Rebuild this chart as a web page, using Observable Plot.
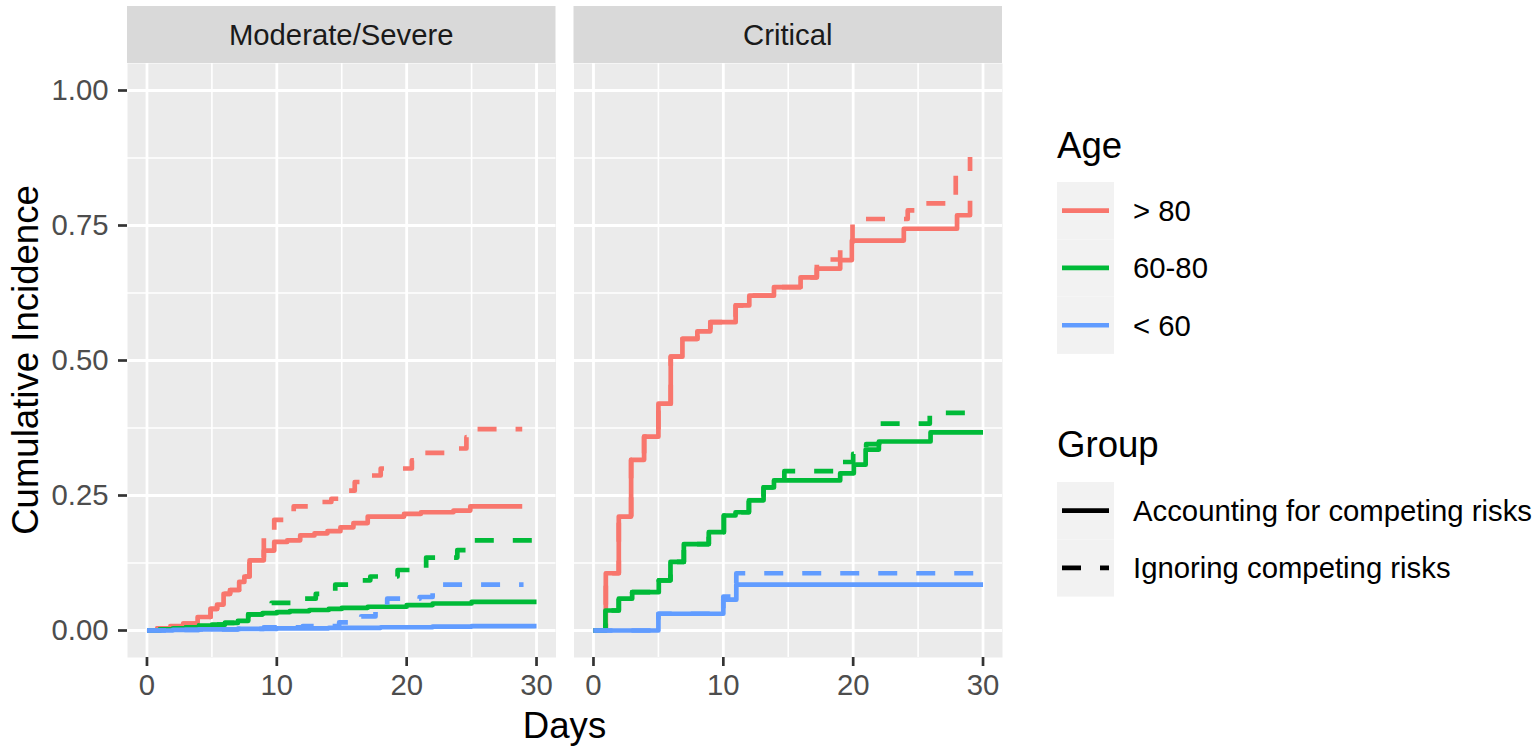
<!DOCTYPE html>
<html>
<head>
<meta charset="utf-8">
<script src="https://cdn.jsdelivr.net/npm/d3@7"></script>
<script src="https://cdn.jsdelivr.net/npm/@observablehq/plot@0.6"></script>
<style>
  html, body { margin: 0; padding: 0; background: #ffffff; }
  #wrap { position: relative; width: 1535px; height: 752px; overflow: hidden; background: #ffffff;
          font-family: "Liberation Sans", Arial, Helvetica, sans-serif; }
  #wrap svg { position: absolute; left: 0; top: 0; }
</style>
</head>
<body>
<div id="wrap"></div>
<script>
// ---------- categories & ticks ----------
const panels = ["Moderate/Severe", "Critical"];
const ages = ["> 80", "60-80", "< 60"];
const ageColors = ["#F8766D", "#00BA38", "#619CFF"];
const groups = ["Accounting for competing risks", "Ignoring competing risks"];
const xTicks = [0, 10, 20, 30];
const xMinor = [5, 15, 25];
const yTicks = [0, 0.25, 0.5, 0.75, 1];
const yMinor = [0.125, 0.375, 0.625, 0.875];
const xTitle = "Days";
const yTitle = "Cumulative Incidence";
const ageTitle = "Age";
const groupTitle = "Group";

// ---------- series values: [day, cumulative incidence] (step changes) ----------
// Moderate/Severe
const ms_gt80_acc = [[0,0],[0.8,0.004],[1.8,0.008],[2.8,0.013],[3.9,0.025],[4.9,0.040],[5.4,0.048],[5.9,0.068],[6.4,0.075],[7.1,0.090],[7.5,0.100],[7.9,0.130],[9.0,0.148],[9.8,0.164],[10.8,0.167],[11.8,0.176],[12.9,0.180],[13.9,0.184],[14.9,0.191],[15.9,0.199],[17.0,0.211],[19.8,0.216],[21.1,0.219],[23.6,0.222],[24.9,0.230],[28.9,0.230]];
const ms_gt80_ign = [[0,0],[0.8,0.004],[1.8,0.008],[2.8,0.013],[3.9,0.025],[4.9,0.040],[5.4,0.048],[5.9,0.068],[6.4,0.075],[7.1,0.090],[7.5,0.100],[7.9,0.130],[9.0,0.186],[9.8,0.205],[11.3,0.230],[13.0,0.238],[14.2,0.244],[15.1,0.259],[16.0,0.275],[17.0,0.287],[18.0,0.300],[20.4,0.315],[21.2,0.329],[24.0,0.337],[24.6,0.358],[24.9,0.373],[28.9,0.373]];
const ms_6080_acc = [[0,0],[1,0.002],[2,0.004],[3,0.006],[4,0.009],[5,0.011],[6,0.014],[7,0.018],[7.8,0.030],[8.9,0.032],[10,0.034],[11,0.036],[12.5,0.038],[14,0.040],[15,0.042],[17,0.044],[20,0.047],[22,0.050],[25,0.053],[30,0.053]];
const ms_6080_ign = [[0,0],[1,0.002],[2,0.004],[3,0.006],[4,0.009],[5,0.011],[6,0.014],[7,0.018],[7.8,0.030],[8.9,0.038],[9.6,0.051],[11.6,0.059],[13.0,0.068],[14.5,0.085],[16.5,0.093],[17.2,0.100],[19.3,0.112],[21.5,0.135],[23.9,0.149],[24.9,0.167],[30,0.167]];
const ms_lt60_acc = [[0,0],[2,0.001],[4,0.002],[7,0.003],[10,0.004],[14,0.005],[18,0.006],[22,0.007],[25,0.008],[30,0.008]];
const ms_lt60_ign = [[0,0],[2,0.001],[4,0.002],[7,0.003],[9,0.006],[12,0.008],[14.8,0.015],[16.5,0.026],[17.6,0.043],[18.5,0.059],[21.0,0.062],[22.0,0.085],[29,0.085]];
// Critical
const cr_gt80_acc = [[0,0],[0.95,0.106],[1.95,0.211],[2.9,0.316],[3.9,0.359],[5.0,0.420],[5.95,0.507],[6.85,0.540],[8.0,0.554],[9.0,0.571],[10.95,0.602],[12.0,0.620],[13.9,0.636],[15.95,0.654],[17.2,0.670],[19.0,0.686],[19.9,0.722],[23.9,0.744],[28.0,0.769],[29.0,0.796]];
const cr_gt80_ign = [[0,0],[0.95,0.106],[1.95,0.211],[2.9,0.316],[3.9,0.359],[5.0,0.420],[5.95,0.507],[6.85,0.540],[8.0,0.554],[9.0,0.571],[10.95,0.602],[12.0,0.620],[13.9,0.636],[15.95,0.654],[17.2,0.687],[19.0,0.713],[19.95,0.762],[24.2,0.778],[24.8,0.791],[27.9,0.843],[29.0,0.877]];
const cr_6080_acc = [[0,0],[0.92,0.037],[1.95,0.059],[2.98,0.071],[5.03,0.093],[5.93,0.127],[6.96,0.160],[8.88,0.182],[10.04,0.213],[10.94,0.219],[11.97,0.241],[13.1,0.265],[13.9,0.278],[19.0,0.291],[20.05,0.307],[20.96,0.335],[21.98,0.350],[25.96,0.367],[30,0.367]];
const cr_6080_ign = [[0,0],[0.92,0.037],[1.95,0.059],[2.98,0.071],[5.03,0.093],[5.93,0.127],[6.96,0.160],[8.88,0.182],[10.04,0.213],[10.94,0.219],[11.97,0.241],[13.1,0.265],[13.9,0.278],[14.7,0.295],[19.0,0.312],[20.0,0.327],[21.0,0.345],[22.0,0.383],[25.9,0.403],[30,0.403]];
const cr_lt60_acc = [[0,0],[5,0.031],[10,0.057],[11,0.085],[30,0.085]];
const cr_lt60_ign = [[0,0],[5,0.031],[10,0.063],[11,0.106],[30,0.106]];

// ---------- build table ----------
const series = [
  [panels[0], ages[0], groups[0], ms_gt80_acc], [panels[0], ages[0], groups[1], ms_gt80_ign],
  [panels[0], ages[1], groups[0], ms_6080_acc], [panels[0], ages[1], groups[1], ms_6080_ign],
  [panels[0], ages[2], groups[0], ms_lt60_acc], [panels[0], ages[2], groups[1], ms_lt60_ign],
  [panels[1], ages[0], groups[0], cr_gt80_acc], [panels[1], ages[0], groups[1], cr_gt80_ign],
  [panels[1], ages[1], groups[0], cr_6080_acc], [panels[1], ages[1], groups[1], cr_6080_ign],
  [panels[1], ages[2], groups[0], cr_lt60_acc], [panels[1], ages[2], groups[1], cr_lt60_ign]
];
const rows = series.flatMap(([panel, age, group, pts]) =>
  pts.map(([day, value]) => ({panel, age, group, day, value})));

// ---------- layout ----------
const W = 1535, H = 752;
const mL = 127, mR = 533, mT = 63, mB = 95;
const lineW = 4.7, dash = "19,19";
const textFont = 29.3, titleFont = 36.6;

const lineMarks = [];
for (const a of ages) {
  for (const g of groups) {
    lineMarks.push(Plot.line(rows.filter(d => d.age === a && d.group === g), {
      x: "day", y: "value", fx: "panel", stroke: "age",
      strokeWidth: lineW, curve: "step-after",
      strokeDasharray: g === groups[1] ? dash : null,
      strokeLinejoin: "round", strokeLinecap: "butt"
    }));
  }
}

const chart = Plot.plot({
  width: W, height: H,
  marginLeft: mL, marginRight: mR, marginTop: mT, marginBottom: mB,
  style: {background: "transparent", fontFamily: "'Liberation Sans', Arial, Helvetica, sans-serif", overflow: "visible"},
  fx: {domain: panels, paddingInner: 0.0403, paddingOuter: 0, round: false, axis: null, label: null},
  x: {domain: [-1.5, 31.5], label: null},
  y: {domain: [-0.05, 1.05], label: null},
  color: {domain: ages, range: ageColors},
  marks: [
    Plot.frame({fill: "#EBEBEB", stroke: null}),
    Plot.gridX(xMinor, {stroke: "#FFFFFF", strokeOpacity: 1, strokeWidth: 1.6}),
    Plot.gridY(yMinor, {stroke: "#FFFFFF", strokeOpacity: 1, strokeWidth: 1.6}),
    Plot.gridX(xTicks, {stroke: "#FFFFFF", strokeOpacity: 1, strokeWidth: 2.8}),
    Plot.gridY(yTicks, {stroke: "#FFFFFF", strokeOpacity: 1, strokeWidth: 2.8}),
    ...lineMarks,
    Plot.axisX(xTicks, {tickSize: 9, tickPadding: 8, fontSize: textFont, fill: "#4D4D4D", stroke: "#333333", strokeWidth: 2.7, label: null}),
    Plot.axisY(yTicks, {tickSize: 9, tickPadding: 10, fontSize: textFont, fill: "#4D4D4D", stroke: "#333333", strokeWidth: 2.7, tickFormat: d3.format(".2f"), label: null})
  ]
});
const wrap = document.getElementById("wrap");
wrap.appendChild(chart);

// ---------- overlay: strips, axis titles, legend ----------
let fxs = null;
try { fxs = chart.scale("fx"); } catch (e) { fxs = null; }
const step = (W - mL - mR) / (panels.length - 0.0403);
const bw = fxs && fxs.bandwidth ? fxs.bandwidth : step * (1 - 0.0403);
const leftOf = p => (fxs && fxs.apply) ? fxs.apply(p) : mL + panels.indexOf(p) * step;

const ov = d3.select(wrap).append("svg")
  .attr("width", W).attr("height", H)
  .style("pointer-events", "none")
  .style("font-family", "'Liberation Sans', Arial, Helvetica, sans-serif");

panels.forEach(p => {
  const x0 = leftOf(p);
  ov.append("rect").attr("x", x0).attr("y", 6).attr("width", bw).attr("height", mT - 6).attr("fill", "#D9D9D9");
  ov.append("text").attr("x", x0 + bw / 2).attr("y", 45).attr("text-anchor", "middle")
    .attr("font-size", textFont).attr("fill", "#1A1A1A").text(p);
});

ov.append("text").attr("x", (mL + (W - mR)) / 2).attr("y", 738).attr("text-anchor", "middle")
  .attr("font-size", titleFont).attr("fill", "#000").text(xTitle);
ov.append("text").attr("transform", `translate(38,${(mT + (H - mB)) / 2}) rotate(-90)`).attr("text-anchor", "middle")
  .attr("font-size", titleFont).attr("fill", "#000").text(yTitle);

// legend
const lgX = 1057, keyW = 57, lineX1 = 1062, lineX2 = 1109, labX = 1133;
ov.append("text").attr("x", lgX).attr("y", 158).attr("font-size", titleFont).attr("fill", "#000").text(ageTitle);
const ageKeyTop = 182, keyH = 57.3;
ages.forEach((a, i) => {
  const y0 = ageKeyTop + i * keyH, cy = y0 + keyH / 2;
  ov.append("rect").attr("x", lgX).attr("y", y0).attr("width", keyW).attr("height", keyH).attr("fill", "#F2F2F2");
  ov.append("line").attr("x1", lineX1).attr("x2", lineX2).attr("y1", cy).attr("y2", cy)
    .attr("stroke", ageColors[i]).attr("stroke-width", lineW);
  ov.append("text").attr("x", labX).attr("y", cy + 10.5).attr("font-size", textFont).attr("fill", "#000").text(a);
});
ov.append("text").attr("x", lgX).attr("y", 457).attr("font-size", titleFont).attr("fill", "#000").text(groupTitle);
const grpKeyTop = 482;
groups.forEach((g, i) => {
  const y0 = grpKeyTop + i * keyH, cy = y0 + keyH / 2;
  ov.append("rect").attr("x", lgX).attr("y", y0).attr("width", keyW).attr("height", keyH).attr("fill", "#F2F2F2");
  ov.append("line").attr("x1", lineX1).attr("x2", lineX2).attr("y1", cy).attr("y2", cy)
    .attr("stroke", "#000").attr("stroke-width", lineW)
    .attr("stroke-dasharray", i === 1 ? dash : null);
  ov.append("text").attr("x", labX).attr("y", cy + 10.5).attr("font-size", textFont).attr("fill", "#000").text(g);
});
</script>
</body>
</html>
